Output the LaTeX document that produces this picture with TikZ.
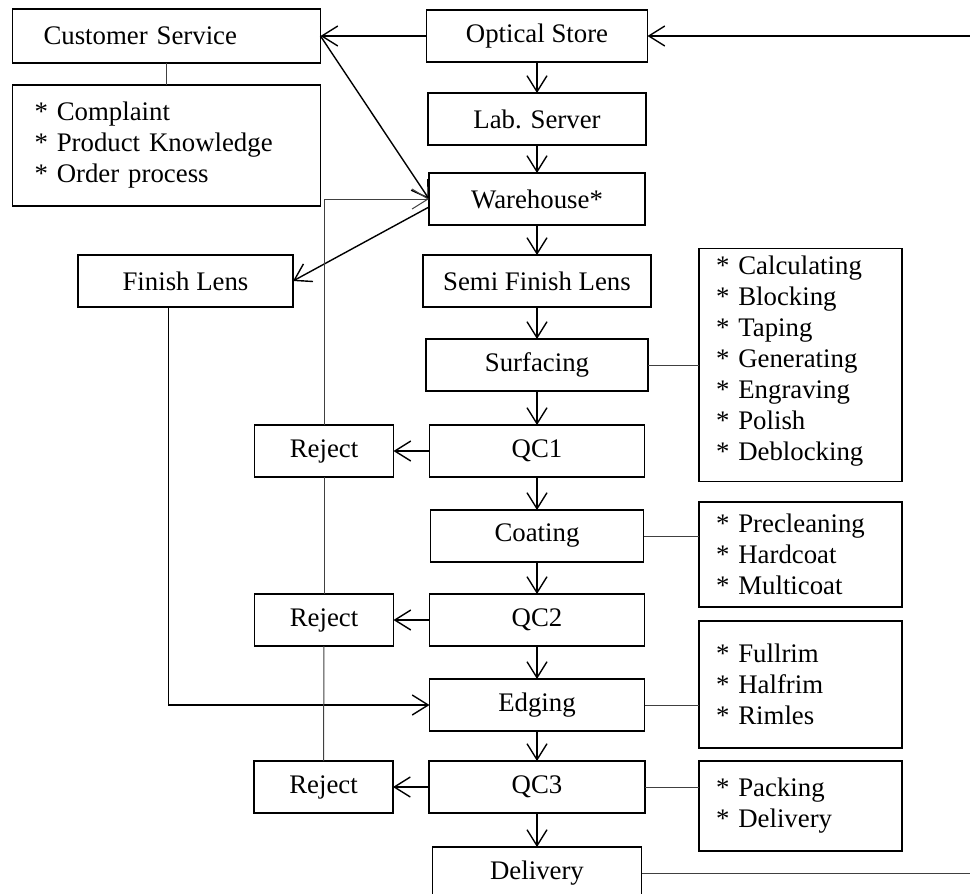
\documentclass[tikz,border=0pt]{standalone}
\usepackage{fontspec}
\setmainfont{Liberation Serif}
\usetikzlibrary{positioning,arrows.meta}
\tikzset{basic/.style={draw,line width=0.7pt,minimum height=26pt,inner sep=2pt,outer sep=0pt,font=\fontsize{13.4}{15.5}\selectfont}}
\tikzset{stage/.style={basic,text badly centered}}
\tikzset{reject/.style={basic,minimum width=69.5pt}}
\tikzset{notes/.style={basic,align=left}}
\tikzset{tasks/.style={notes,text width=84.5pt,inner xsep=8.5pt}}
\tikzset{arrow/.style={draw,line width=0.7pt,-{Straight Barb[length=8pt,width=10pt]}}}
\tikzset{link/.style={draw,line width=0.5pt,black!75}}

\begin{document}
\begin{tikzpicture}
        \useasboundingbox (0,0) rectangle (485pt,-447pt);
        \node[stage,minimum width=110.5pt] (store) at (268.5pt,-18pt) {Optical Store};
        \node[stage,minimum width=109pt,below=15.5pt of store] (lab) {Lab. Server};
        \node[stage,minimum width=108pt,below=14pt of lab] (ware) {Warehouse*};
        \node[stage,minimum width=114pt,below=15pt of ware] (semi) {Semi Finish Lens};
        \node[stage,minimum width=111pt,below=16pt of semi] (surf) {Surfacing};
        \node[stage,minimum width=107.5pt,below=17pt of surf] (qc1) {QC1};
        \node[stage,minimum width=106.5pt,below=16.5pt of qc1] (coat) {Coating};
        \node[stage,minimum width=107.5pt,below=16pt of coat] (qc2) {QC2};
        \node[stage,minimum width=107.5pt,below=16.5pt of qc2] (edge) {Edging};
        \node[stage,minimum width=108pt,below=15pt of edge] (qc3) {QC3};
        \node[stage,minimum width=104.5pt,below=17pt of qc3] (deliv) {Delivery};

        \node[notes,minimum height=27pt,text width=123pt,inner xsep=15.5pt,left=53pt of store] (cs) {Customer Service};
        \node[notes,minimum height=60.5pt,text width=132pt,inner xsep=11pt,below=11pt of cs] (csnotes) {* Complaint\\{*} Product Knowledge\\{*} Order process};
        \node[stage,minimum width=107.5pt,left=65pt of semi] (fin) {Finish Lens};
        \node[reject,left=18pt of qc1] (rej1) {Reject};
        \node[reject,left=18pt of qc2] (rej2) {Reject};
        \node[reject,left=18pt of qc3] (rej3) {Reject};

        \node[tasks,minimum height=116.5pt,right=25.5pt of surf] (surfnotes) {* Calculating\\{*} Blocking\\{*} Taping\\{*} Generating\\{*} Engraving\\{*} Polish\\{*} Deblocking\\[-9pt]~};
        \node[tasks,minimum height=52.5pt,anchor=west,yshift=-9.25pt] (coatnotes) at (surfnotes.west |- coat.east) {* Precleaning\\{*} Hardcoat\\{*} Multicoat};
        \node[tasks,minimum height=63.5pt,anchor=west,yshift=10.25pt] (edgenotes) at (surfnotes.west |- edge.east) {* Fullrim\\{*} Halfrim\\{*} Rimles};
        \node[tasks,minimum height=45pt,anchor=west,yshift=-9.5pt] (qcnotes) at (surfnotes.west |- qc3.east) {* Packing\\{*} Delivery};

        \coordinate[right=162pt of store.east] (storein);
        \coordinate[right=170pt of deliv.east] (delivout);

        \foreach \a/\b in {store/lab,lab/ware,ware/semi,semi/surf,surf/qc1,qc1/coat,coat/qc2,qc2/edge,edge/qc3,qc3/deliv}
            \path[draw,arrow] (\a) -- (\b);
        \foreach \q/\r in {qc1/rej1,qc2/rej2,qc3/rej3}
            \path[draw,arrow] (\q) -- (\r);
        \path[draw,arrow] (storein) -- (store.east);
        \path[draw,arrow] (store.west) -- (store.west -| cs.east);
        \path[draw,arrow] (cs.east) -- (ware.west);
        \path[draw,arrow] ([yshift=-4pt]ware.west) -- (fin.east);
        \path[draw,arrow] ([xshift=-8.5pt]fin.south) |- (edge.west);
        \path[draw,link,-{Straight Barb[length=8pt,width=10pt]}] (rej1.north) |- (ware.west);
        \path[draw,link] (rej1) -- (rej2);
        \path[draw,link] (rej2) -- (rej3);
        \path[draw,link] (cs) -- (csnotes);
        \path[draw,link] (surf.east) -- (surf.east -| surfnotes.west);
        \path[draw,link] (coat.east) -- (coat.east -| coatnotes.west);
        \path[draw,link] (edge.east) -- (edge.east -| edgenotes.west);
        \path[draw,link] (qc3.east) -- (qc3.east -| qcnotes.west);
        \path[draw,link] (deliv.east) -- (delivout);
    \end{tikzpicture}
\end{document}
